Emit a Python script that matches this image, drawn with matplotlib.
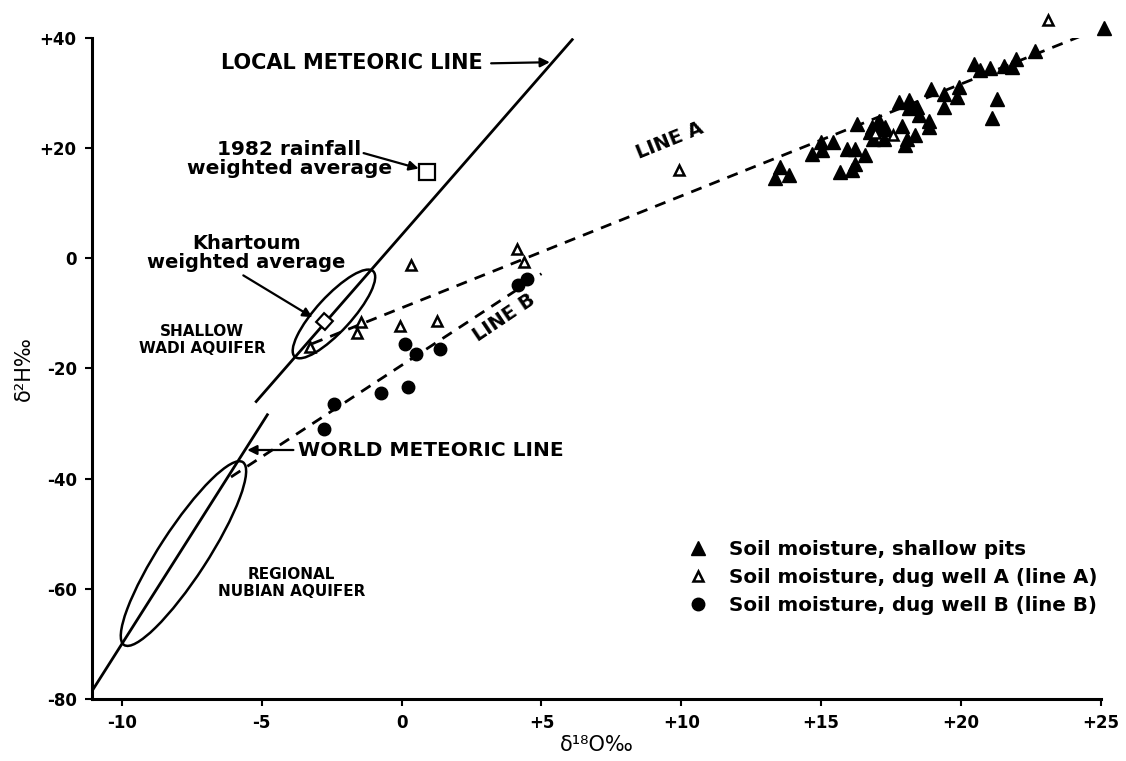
import matplotlib
matplotlib.use("Agg")
import matplotlib.pyplot as plt
from matplotlib.patches import Ellipse
from matplotlib.transforms import ScaledTranslation

plt.rcParams['font.family'] = ['DejaVu Sans']
plt.rcParams['font.weight'] = 'bold'

# soil moisture, shallow pits (d18O, d2H)
pits_o = [13.52, 13.34, 13.86, 14.66, 15.02, 14.99, 15.44, 16.27, 15.91, 16.21,
          16.55, 16.21, 15.67, 16.09, 16.75, 16.99, 17.23, 16.87, 17.23, 17.77,
          17.88, 18.06, 18.36, 18.13, 18.48, 18.00, 18.84, 18.84, 17.05, 17.29,
          19.38, 19.38, 18.94, 19.92, 19.86, 20.45, 20.69, 21.05, 21.53, 21.83,
          21.95, 22.66, 25.10, 21.29, 21.11, 18.13, 18.42, 16.81]
pits_h = [16.6, 14.5, 15.1, 19.0, 19.6, 21.1, 21.2, 24.4, 19.9, 19.9,
          18.7, 17.2, 15.7, 16.0, 22.9, 24.4, 23.5, 21.7, 21.7, 28.4,
          24.1, 21.7, 22.3, 27.2, 26.0, 20.5, 23.8, 25.0, 25.0, 23.8,
          29.9, 27.5, 30.8, 31.1, 29.2, 35.3, 34.1, 34.6, 35.0, 34.7,
          36.2, 37.7, 41.9, 29.0, 25.4, 28.7, 27.5, 23.8]

# soil moisture, dug well A
well_a_o = [-3.26, -1.61, -1.47, -0.07, 1.28, 0.35, 4.12, 4.36, 9.93, 23.11, 16.92, 17.56]
well_a_h = [-16.1, -13.6, -11.6, -12.2, -11.3, -1.3, 1.6, -0.7, 16.0, 43.3, 22.7, 22.3]

# soil moisture, dug well B
well_b_o = [0.12, 0.50, 1.37, -0.75, 0.23, -2.43, -2.78, 4.15, 4.48]
well_b_h = [-15.5, -17.3, -16.4, -24.4, -23.4, -26.4, -31.0, -4.9, -3.7]

# weighted averages: 1982 rainfall, Khartoum
rain_o, rain_h = 0.92, 15.7
khart_o, khart_h = -2.78, -11.3

# reference lines
local_o = [-5.2, 6.1]
local_h = [-26.0, 39.7]
world_o = [-11.1, -4.8]
world_h = [-78.8, -28.4]
line_a_o = [-3.2, 25.0]
line_a_h = [-15.5, 41.8]
line_b_o = [-6.1, 5.0]
line_b_h = [-39.7, -2.8]

xticks = [-10, -5, 0, 5, 10, 15, 20, 25]
xtick_labels = ['-10', '-5', '0', '+5', '+10', '+15', '+20', '+25']
yticks = [-80, -60, -40, -20, 0, 20, 40]
ytick_labels = ['-80', '-60', '-40', '-20', '0', '+20', '+40']

fig = plt.figure(figsize=(11.26, 7.61), dpi=100)
ax = fig.add_axes([0.0817, 0.0815, 0.896, 0.8686])
ax.set_xlim(-11.07, 25)
ax.set_ylim(-80, 40)

for side in ['top', 'right']:
    ax.spines[side].set_visible(False)
for side in ['left', 'bottom']:
    ax.spines[side].set_linewidth(2.2)

ax.set_xticks(xticks)
ax.set_xticklabels(xtick_labels)
ax.set_yticks(yticks)
ax.set_yticklabels(ytick_labels)
ax.tick_params(axis='both', direction='out', length=5, width=1.5, labelsize=12, pad=6)

ax.plot(local_o, local_h, color='black', lw=2)
ax.plot(world_o, world_h, color='black', lw=2)
ax.plot(line_a_o, line_a_h, color='black', lw=2, ls=(0, (4, 3)))
ax.plot(line_b_o, line_b_h, color='black', lw=2, ls=(0, (4, 3)))

# aquifer envelopes, sized in inches around a data centre
def envelope(cx, cy, length, width, angle):
    tr = fig.dpi_scale_trans + ScaledTranslation(cx, cy, ax.transData)
    ax.add_patch(Ellipse((0, 0), length, width, angle=angle, transform=tr,
                         fill=False, lw=1.8, ec='black'))

envelope(-2.42, -10.1, 1.16, 0.35, 47.5)
envelope(-7.80, -53.6, 2.18, 0.48, 57.0)

ax.plot(pits_o, pits_h, ls='none', marker='^', ms=10, color='black', clip_on=False,
        label='Soil moisture, shallow pits')
ax.plot(well_a_o, well_a_h, ls='none', marker='^', ms=7, mfc='white', mec='black', mew=1.8,
        clip_on=False, label='Soil moisture, dug well A (line A)')
ax.plot(well_b_o, well_b_h, ls='none', marker='o', ms=9, color='black',
        label='Soil moisture, dug well B (line B)')
ax.plot(rain_o, rain_h, ls='none', marker='s', ms=11, mfc='white', mec='black', mew=1.6)
ax.plot(khart_o, khart_h, ls='none', marker=(4, 0, 3), ms=12, mfc='white', mec='black', mew=1.6)

arrow = dict(arrowstyle='-|>', color='black', lw=1.6, mutation_scale=14, shrinkA=0, shrinkB=0)

ax.text(2.9, 35.4, 'LOCAL METEORIC LINE', ha='right', va='center', fontsize=15)
ax.annotate('', xy=(5.3, 35.6), xytext=(3.2, 35.4), arrowprops=arrow)

ax.text(-4.01, 18.1, '1982 rainfall\nweighted average', ha='center', va='center',
        fontsize=14.5, linespacing=1.0)
ax.annotate('', xy=(0.61, 16.3), xytext=(-1.36, 19.1), arrowprops=arrow)

ax.text(-5.56, 0.9, 'Khartoum\nweighted average', ha='center', va='center',
        fontsize=14, linespacing=1.0)
ax.annotate('', xy=(-3.19, -10.7), xytext=(-5.66, -3.1), arrowprops=arrow)

ax.text(-7.13, -14.9, 'SHALLOW\nWADI AQUIFER', ha='center', va='center', fontsize=11,
        linespacing=1.15)

ax.text(-3.69, -34.8, 'WORLD METEORIC LINE', ha='left', va='center', fontsize=14.5)
ax.annotate('', xy=(-5.52, -34.8), xytext=(-3.87, -34.8), arrowprops=arrow)

ax.text(-3.94, -59.0, 'REGIONAL\nNUBIAN AQUIFER', ha='center', va='center', fontsize=11,
        linespacing=1.15)

ax.text(9.57, 21.4, 'LINE A', ha='center', va='center', fontsize=14, rotation=22)
ax.text(3.66, -10.7, 'LINE B', ha='center', va='center', fontsize=14, rotation=34)

ax.set_xlabel('δ¹⁸O‰', fontsize=15, labelpad=2)
ax.set_ylabel('δ²H‰', fontsize=15, labelpad=4)

ax.legend(loc='upper left', bbox_to_anchor=(0.6115, 0.291), bbox_transform=fig.transFigure,
          frameon=False, fontsize=14.3, handlelength=1.0, handletextpad=1.05,
          labelspacing=0.46, borderpad=0, borderaxespad=0)

fig.savefig('out.png', dpi=100)
